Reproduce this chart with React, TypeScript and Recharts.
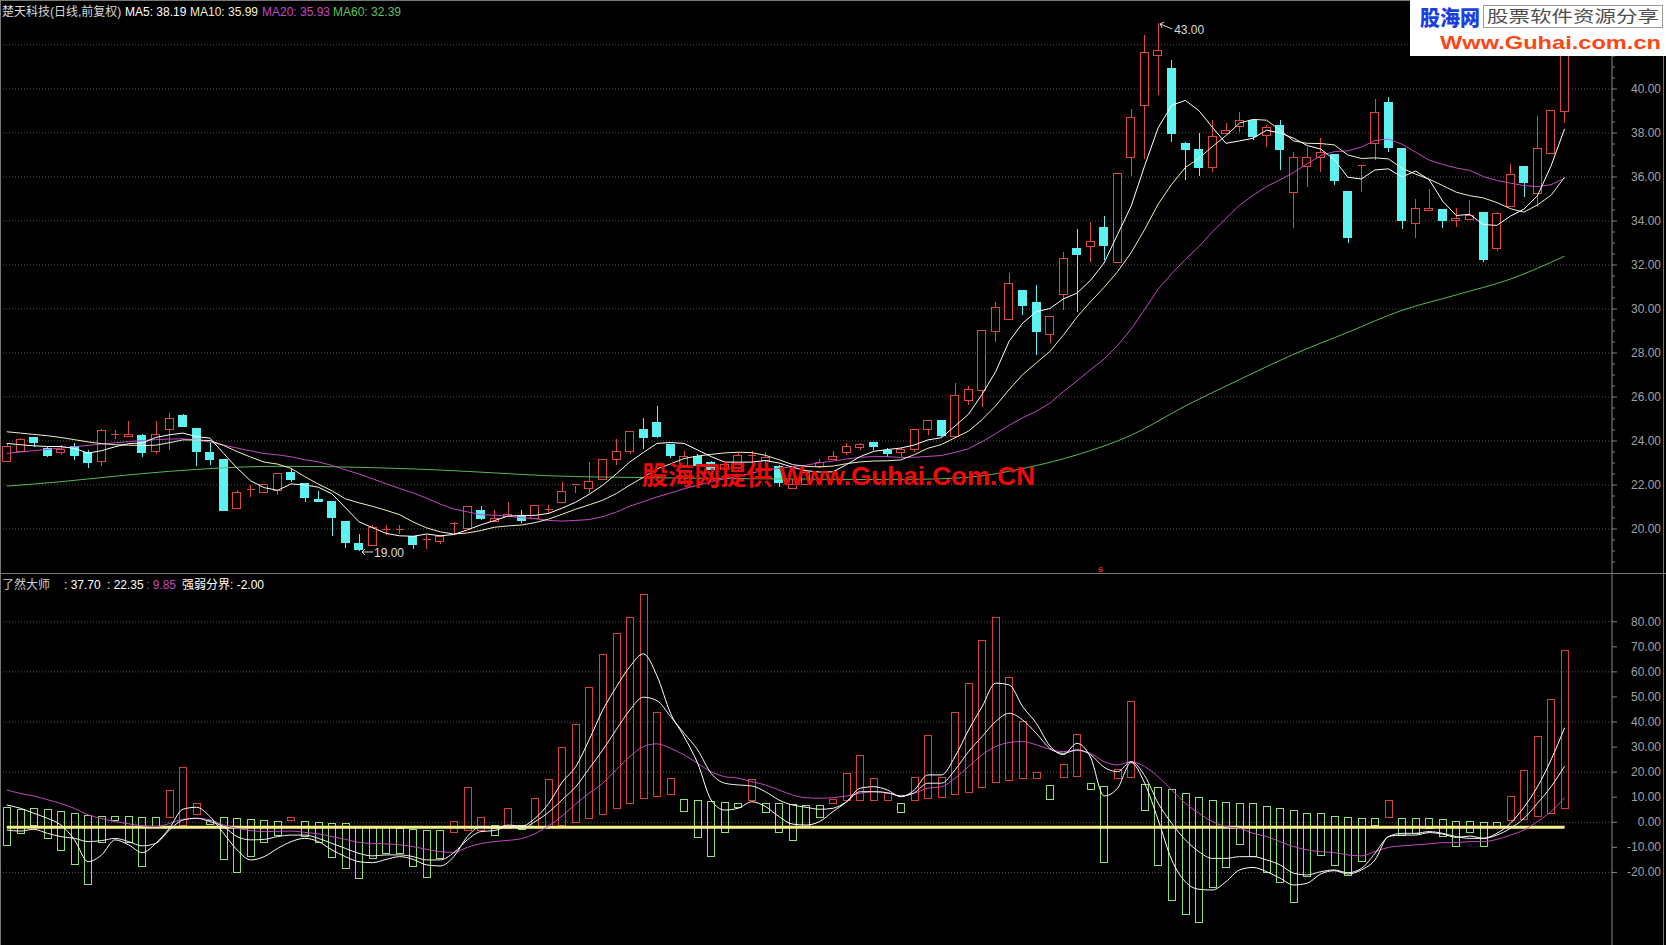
import React from 'react';
import { ComposedChart, Bar, Line, XAxis, YAxis, CartesianGrid, ReferenceDot } from 'recharts';

// daily candles, index 0..115
const OPEN = [
  23.06, 23.52, 24.15, 23.67, 23.47, 23.74, 23.49, 23.06, 24.25, 24.2,
  24.26, 23.52, 24.5, 25.18, 24.58, 23.49, 23.14, 20.94, 21.75, 21.67,
  21.77, 22.56, 22.08, 21.36, 21.27, 20.36, 19.35, 19.24, 19.94, 19.97,
  19.68, 19.52, 19.42, 20.25, 20.03, 20.82, 20.33, 20.56, 20.56, 20.49,
  20.88, 21.2, 21.97, 21.85, 22.26, 23.14, 23.5, 24.53, 24.85, 23.82,
  22.9, 23.3, 23.0, 22.7, 22.8, 23.3, 23.1, 22.86, 21.86, 22.0,
  22.84, 23.17, 23.47, 23.71, 23.94, 23.55, 23.47, 23.62, 24.53, 24.92,
  24.2, 25.83, 26.29, 28.97, 29.53, 30.86, 30.3, 28.82, 30.67, 32.76,
  32.86, 33.71, 32.12, 36.9, 39.24, 41.51, 40.94, 37.5, 37.27, 36.44,
  37.98, 38.29, 38.56, 37.88, 38.32, 35.29, 36.47, 36.89, 37.0, 35.36,
  36.5, 37.53, 39.39, 37.3, 33.89, 34.47, 34.53, 34.0, 34.08, 34.39,
  32.76, 34.65, 36.47, 35.26, 37.05, 38.97,
];
const HIGH = [
  23.92, 24.12, 24.2, 23.74, 23.82, 23.92, 23.59, 24.53, 24.5, 24.92,
  24.3, 24.92, 25.26, 25.23, 24.58, 23.89, 23.14, 21.77, 22.0, 22.0,
  22.53, 22.76, 22.08, 21.74, 21.27, 20.36, 19.76, 20.18, 20.18, 20.18,
  19.68, 19.73, 19.73, 20.33, 21.02, 21.05, 20.86, 21.24, 20.86, 21.09,
  21.09, 22.15, 22.03, 23.06, 23.14, 24.07, 24.42, 25.03, 25.59, 23.82,
  23.55, 23.4, 23.1, 23.1, 23.5, 23.55, 23.5, 22.9, 22.25, 22.6,
  23.2, 23.56, 23.9, 23.92, 23.94, 23.67, 23.67, 24.5, 24.95, 24.95,
  26.65, 26.5, 29.0, 30.33, 31.65, 30.86, 31.09, 29.68, 32.6, 33.62,
  33.97, 34.23, 36.17, 39.08, 42.45, 43.0, 41.32, 37.6, 38.0, 38.6,
  38.47, 38.97, 38.6, 38.36, 38.6, 37.15, 37.38, 37.76, 37.0, 35.36,
  36.52, 39.53, 39.65, 37.3, 34.98, 35.44, 34.53, 34.58, 34.95, 34.39,
  34.42, 36.59, 36.47, 38.79, 39.0, 42.9,
];
const LOW = [
  23.06, 23.49, 23.74, 23.29, 23.36, 23.14, 22.79, 22.88, 24.08, 24.17,
  23.26, 23.41, 23.59, 24.65, 22.88, 22.91, 20.83, 20.94, 21.47, 21.62,
  21.55, 22.15, 21.24, 21.27, 19.68, 19.12, 19.0, 19.24, 19.73, 19.79,
  19.08, 19.08, 19.32, 19.73, 20.03, 20.41, 20.33, 20.56, 20.29, 20.49,
  20.68, 21.2, 21.62, 21.65, 22.26, 22.91, 23.41, 23.62, 24.12, 23.21,
  22.8, 22.7, 22.5, 22.6, 22.7, 22.9, 22.9, 21.9, 21.86, 22.0,
  22.75, 23.14, 23.36, 23.6, 23.6, 23.29, 23.29, 23.5, 24.27, 24.2,
  24.2, 25.64, 25.56, 28.48, 29.53, 29.73, 27.91, 28.44, 29.95, 29.88,
  32.15, 32.23, 32.12, 36.06, 36.8, 39.73, 37.6, 35.86, 36.06, 36.24,
  37.95, 38.06, 37.7, 37.38, 36.3, 33.67, 35.56, 36.24, 35.64, 32.98,
  35.33, 36.77, 37.15, 33.62, 33.21, 34.47, 33.67, 33.74, 34.05, 32.15,
  32.65, 34.62, 35.1, 34.65, 37.05, 38.44,
];
const CLOSE = [
  23.74, 24.08, 23.94, 23.36, 23.62, 23.32, 23.02, 24.47, 24.28, 24.3,
  23.47, 24.3, 25.03, 24.68, 23.52, 23.14, 20.83, 21.67, 21.78, 22.0,
  22.53, 22.27, 21.42, 21.27, 20.53, 19.38, 19.05, 20.06, 19.96, 19.99,
  19.3, 19.54, 19.65, 20.27, 21.02, 20.49, 20.49, 20.67, 20.38, 21.09,
  20.9, 21.7, 22.03, 22.18, 23.14, 23.5, 24.42, 24.17, 24.2, 23.36,
  23.3, 22.9, 22.7, 22.95, 23.35, 23.32, 23.25, 22.12, 22.02, 22.55,
  23.02, 23.3, 23.77, 23.82, 23.74, 23.44, 23.62, 24.5, 24.95, 24.23,
  26.09, 26.35, 29.0, 30.08, 31.17, 30.18, 28.97, 29.68, 32.3, 32.48,
  33.09, 32.89, 36.17, 38.71, 41.67, 41.77, 37.98, 37.27, 36.42, 37.86,
  38.1, 38.56, 37.86, 38.26, 37.23, 36.89, 36.89, 37.1, 35.83, 33.24,
  36.5, 38.92, 37.35, 34.0, 34.58, 34.55, 34.02, 34.12, 34.23, 32.26,
  34.35, 36.12, 35.74, 37.3, 39.0, 42.79,
];

// moving averages as drawn on the chart
const MA5 = [
  23.89, 23.83, 23.78, 23.75, 23.75, 23.66, 23.45, 23.56, 23.74, 23.88,
  23.91, 24.16, 24.28, 24.36, 24.2, 24.13, 23.44, 22.77, 22.19, 21.88,
  21.76, 22.05, 22.0, 21.9, 21.6, 20.97, 20.33, 20.06, 19.8, 19.69,
  19.67, 19.77, 19.69, 19.75, 19.96, 20.19, 20.38, 20.59, 20.61, 20.62,
  20.71, 20.95, 21.22, 21.58, 21.99, 22.51, 23.05, 23.48, 23.89, 23.93,
  23.89, 23.59, 23.29, 23.04, 23.04, 23.04, 23.11, 23.0, 22.81, 22.65,
  22.59, 22.6, 22.93, 23.29, 23.53, 23.61, 23.68, 23.82, 24.05, 24.15,
  24.68, 25.22, 26.12, 27.15, 28.54, 29.36, 29.88, 30.02, 30.46, 30.72,
  31.3, 32.09, 33.39, 34.67, 36.51, 38.24, 39.26, 39.48, 39.02, 38.26,
  37.53, 37.64, 37.76, 38.13, 38.0, 37.76, 37.43, 37.27, 36.79, 35.99,
  35.91, 36.32, 36.37, 36.0, 36.27, 35.88, 34.9, 34.25, 34.3, 33.84,
  33.8, 34.22, 34.54, 35.15, 36.5, 38.19,
];
const MA10 = [
  24.42, 24.36, 24.3, 24.24, 24.16, 24.06, 23.96, 23.88, 23.83, 23.81,
  23.79, 23.81, 23.92, 24.05, 24.04, 24.02, 23.8, 23.52, 23.27, 23.04,
  22.95, 22.75, 22.38, 22.04, 21.74, 21.37, 21.19, 21.03, 20.85, 20.65,
  20.32, 20.05, 19.87, 19.77, 19.82, 19.93, 20.08, 20.14, 20.18, 20.29,
  20.45, 20.67, 20.9, 21.1, 21.31, 21.61, 22.0, 22.35, 22.73, 22.96,
  23.2, 23.32, 23.39, 23.46, 23.49, 23.47, 23.35, 23.15, 22.93, 22.85,
  22.82, 22.86, 22.97, 23.05, 23.09, 23.1, 23.14, 23.38, 23.67, 23.84,
  24.15, 24.45, 24.97, 25.6, 26.34, 27.02, 27.55, 28.07, 28.81, 29.63,
  30.33, 30.98, 31.7, 32.56, 33.61, 34.77, 35.67, 36.43, 36.85, 37.38,
  37.88, 38.45, 38.62, 38.58, 38.13, 37.64, 37.53, 37.52, 37.46, 37.0,
  36.84, 36.87, 36.82, 36.4, 36.13, 35.9, 35.61, 35.31, 35.15, 35.05,
  34.84, 34.56, 34.4, 34.73, 35.17, 35.99,
];
const MA20 = [
  23.44, 23.5, 23.56, 23.62, 23.68, 23.74, 23.8, 23.86, 23.92, 23.97,
  24.02, 24.06, 24.09, 24.1, 24.05, 23.95, 23.82, 23.68, 23.55, 23.43,
  23.37, 23.28, 23.15, 23.05, 22.89, 22.69, 22.5, 22.28, 22.06, 21.84,
  21.64, 21.4, 21.13, 20.91, 20.78, 20.65, 20.63, 20.58, 20.51, 20.47,
  20.39, 20.36, 20.39, 20.43, 20.56, 20.77, 21.04, 21.24, 21.46, 21.63,
  21.83, 21.99, 22.15, 22.28, 22.4, 22.54, 22.68, 22.75, 22.83, 22.9,
  23.01, 23.09, 23.18, 23.26, 23.29, 23.29, 23.25, 23.26, 23.3, 23.34,
  23.48, 23.65, 23.97, 24.33, 24.72, 25.06, 25.35, 25.72, 26.24, 26.73,
  27.24, 27.72, 28.34, 29.08, 29.98, 30.9, 31.61, 32.25, 32.83, 33.51,
  34.11, 34.72, 35.16, 35.57, 35.87, 36.21, 36.6, 36.98, 37.15, 37.19,
  37.36, 37.66, 37.72, 37.49, 37.13, 36.77, 36.57, 36.41, 36.3, 36.02,
  35.84, 35.72, 35.61, 35.56, 35.65, 35.94,
];
// MA60 read at these bars: [index, value]
const MA60 = [
  [0, 21.95], [4, 22.15], [8, 22.4], [12, 22.62], [16, 22.78], [20, 22.85],
  [24, 22.83], [28, 22.77], [32, 22.68], [36, 22.55], [40, 22.42], [44, 22.36],
  [48, 22.33], [52, 22.3], [56, 22.28], [59, 22.27], [63, 22.25], [67, 22.26],
  [71, 22.35], [75, 22.75], [79, 23.37], [83, 24.26], [87, 25.59], [91, 26.79],
  [95, 27.94], [99, 28.94], [103, 29.94], [107, 30.64], [111, 31.36], [115, 32.4],
];

// 了然大师 indicator: hollow bars [top, bottom], colour r/g
const BAR_TOP = [
  6.0, 5.2, 5.6, 5.2, 4.7, 3.9, 2.9, 2.5, 2.5, 2.5,
  2.0, 2.0, 12.9, 21.9, 7.8, 1.0, 2.0, 1.6, 1.2, 0.9,
  0.7, 2.0, 0.7, 0.3, -0.1, -0.4, -1.5, -2.0, -2.0, -2.4,
  -2.8, -3.1, -3.1, 0.7, 14.0, 2.0, -1.1, 5.6, -1.1, 9.6,
  17.2, 30.2, 39.1, 53.9, 67.0, 75.4, 81.8, 91.1, 44.1, 17.6,
  9.2, 8.9, 8.5, 8.0, 7.8, 17.2, 7.8, 7.8, 7.2, 6.9,
  6.9, 9.2, 19.8, 26.9, 17.6, 11.8, 7.6, 18.2, 34.8, 18.2,
  44.1, 55.5, 72.7, 81.8, 58.1, 40.6, 20.2, 14.9, 23.1, 35.1,
  15.6, 14.5, 21.1, 48.4, 15.2, 14.2, 13.2, 11.6, 10.2, 8.9,
  8.2, 7.8, 7.6, 6.5, 5.6, 4.9, 3.9, 3.6, 2.7, 2.3,
  1.6, 1.6, 8.9, 1.6, 1.6, 1.6, 1.2, 0.7, 0.7, 0.3,
  0.3, 10.6, 20.9, 34.4, 49.1, 68.8,
];
const BAR_BOTTOM = [
  -9.3, -4.4, -1.1, -6.4, -10.8, -16.4, -24.6, -7.7, 0.9, -7.7,
  -17.7, -1.7, 2.3, -1.1, 3.6, -0.5, -14.8, -20.1, -13.4, -7.7,
  -4.8, 0.7, -5.1, -7.7, -13.7, -18.4, -22.3, -14.4, -12.4, -12.4,
  -17.4, -21.7, -14.4, -3.7, -3.1, -3.1, -5.1, -2.4, -2.8, -1.7,
  -1.7, -1.1, 0.0, 1.6, 3.2, 5.6, 7.6, 9.8, 10.5, 11.2,
  4.3, -5.7, -13.3, -4.0, 6.3, 8.9, 4.3, -3.7, -7.3, -2.0,
  2.0, 7.8, 8.9, 8.9, 8.9, 8.9, 3.9, 9.2, 9.8, 10.2,
  11.2, 12.2, 14.0, 16.0, 16.9, 18.0, 18.0, 9.2, 18.0, 18.2,
  13.2, -15.7, 17.6, 18.2, 4.7, -17.0, -31.0, -36.6, -39.6, -25.9,
  -17.7, -8.4, -13.4, -19.7, -24.1, -31.6, -21.4, -13.0, -17.0, -21.0,
  -15.7, -1.1, 2.0, -5.1, -4.4, -2.4, -5.7, -9.4, -3.7, -9.4,
  -1.7, 0.9, 1.2, 2.3, 3.6, 5.6,
];
// one letter per bar, in groups of ten
const BAR_COLOR = [
  'gggggggggg', 'ggrrrggggg', 'grgggggggg', 'gggrrrgrgr', 'rrrrrrrrrr',
  'gggggrgggg', 'grrrrrgrrr', 'rrrrrrrgrr', 'ggrrgggggg', 'gggggggggg',
  'ggrggggggg', 'grrrrr',
].join('');
const LINE_1 = [
  6.9, 5.6, 3.6, 1.6, -1.1, -7.0, -15.7, -13.0, -7.0, -9.0,
  -12.1, -8.4, -2.4, 5.2, 6.0, 2.3, -4.4, -11.0, -15.0, -13.7,
  -10.4, -7.7, -6.4, -7.7, -11.0, -13.7, -15.7, -16.1, -14.8, -13.7,
  -14.8, -17.0, -17.4, -13.7, -5.7, -1.7, -2.4, -1.1, -1.5, 1.6,
  7.5, 16.0, 22.2, 33.0, 44.8, 54.0, 62.1, 67.2, 58.4, 43.5,
  34.2, 23.6, 8.9, 4.9, 5.6, 8.2, 6.3, 2.3, -0.7, -1.1,
  0.3, 4.3, 8.2, 13.6, 14.2, 12.9, 10.2, 12.9, 18.9, 18.9,
  26.2, 36.8, 46.1, 55.5, 54.8, 46.1, 39.5, 30.5, 27.0, 31.5,
  26.0, 10.5, 13.6, 23.8, 15.6, 0.9, -15.0, -23.7, -26.7, -27.0,
  -23.7, -19.0, -18.0, -19.7, -22.3, -25.0, -24.3, -20.6, -19.3, -20.6,
  -19.0, -15.0, -5.7, -5.1, -5.1, -4.1, -4.7, -6.0, -5.5, -6.4,
  -4.4, -0.4, 6.0, 14.2, 24.9, 37.7,
];
const LINE_2 = [
  -3.1, -3.5, -2.8, -4.4, -5.7, -6.4, -7.7, -7.3, -6.4, -7.7,
  -9.4, -8.4, -3.1, 0.9, 1.6, 0.3, -1.7, -5.7, -7.0, -6.8,
  -5.7, -5.1, -5.1, -6.4, -8.4, -10.4, -12.4, -13.4, -13.0, -13.0,
  -13.7, -15.0, -15.0, -12.1, -7.0, -3.7, -3.3, -1.7, -2.4, 0.3,
  4.0, 9.0, 14.2, 21.5, 28.9, 37.0, 44.8, 49.9, 48.5, 42.2,
  35.5, 28.9, 19.5, 15.6, 14.9, 14.5, 12.2, 8.9, 6.9, 6.0,
  5.2, 5.6, 8.2, 12.2, 12.2, 11.8, 10.5, 11.8, 15.6, 15.6,
  20.9, 28.2, 34.2, 40.2, 43.5, 40.8, 35.5, 29.5, 27.5, 28.9,
  27.0, 22.0, 20.2, 24.2, 18.6, 7.6, -0.4, -7.0, -11.7, -14.4,
  -14.4, -13.7, -13.7, -15.0, -17.0, -20.3, -21.0, -19.7, -19.0, -20.1,
  -18.4, -12.4, -5.7, -4.4, -4.4, -3.7, -4.4, -5.7, -6.4, -6.4,
  -5.1, -2.4, 1.6, 7.6, 14.2, 22.35,
];
const LINE_3 = [
  12.9, 11.5, 10.5, 9.0, 7.5, 5.5, 3.0, 1.5, 0.3, -0.6,
  -1.4, -1.7, -0.5, 1.2, 1.6, 1.0, -1.1, -2.4, -3.3, -3.7,
  -3.6, -3.5, -4.0, -4.6, -5.7, -6.8, -8.0, -8.4, -8.6, -9.0,
  -9.7, -10.8, -11.7, -12.0, -10.0, -8.5, -7.7, -7.2, -6.5, -4.5,
  -1.4, 2.5, 7.3, 11.6, 15.6, 21.0, 26.2, 30.2, 31.3, 29.5,
  26.9, 23.5, 20.2, 18.2, 17.6, 16.2, 14.9, 12.9, 10.9, 9.8,
  9.6, 9.8, 10.5, 11.6, 12.2, 11.8, 10.5, 11.6, 13.6, 14.2,
  17.6, 22.2, 26.9, 30.2, 31.8, 32.2, 30.9, 29.1, 28.2, 28.6,
  27.5, 24.2, 22.9, 24.2, 22.2, 18.2, 12.9, 7.6, 3.6, 0.3,
  -1.7, -2.4, -4.4, -5.7, -7.7, -9.7, -11.0, -11.7, -12.1, -13.0,
  -13.4, -11.7, -10.0, -9.4, -9.0, -8.6, -8.1, -8.1, -7.7, -7.7,
  -6.8, -5.1, -3.1, 0.3, 4.3, 9.85,
];
const BOUNDARY = -2;

const PRICE_TICKS = [20, 22, 24, 26, 28, 30, 32, 34, 36, 38, 40, 42];
const IND_TICKS = [-20, -10, 0, 10, 20, 30, 40, 50, 60, 70, 80];
const IND_GRID = [-20, 0, 20, 40, 60, 80];
const SLOTS = 119;

const RED = '#e0483f';
const CYAN = '#5cf2f2';
const IND_RED = '#d8403a';
const IND_GREEN = '#8fe06c';
const GRID = '#555555';
const AXIS = '#858585';
const FONT = "'Liberation Sans', 'Noto Sans CJK SC', sans-serif";

const ma60Map = new Map(MA60.map(([i, v]) => [i, v]));
const rows = Array.from({ length: SLOTS }, (_, i) => {
  if (i >= OPEN.length) return { i };
  return {
    i,
    o: OPEN[i], h: HIGH[i], l: LOW[i], c: CLOSE[i],
    ma5: MA5[i], ma10: MA10[i], ma20: MA20[i],
    ma60: ma60Map.has(i) ? ma60Map.get(i) : null,
    bt: BAR_TOP[i], bb: BAR_BOTTOM[i], bc: BAR_COLOR[i],
    w1: LINE_1[i], w2: LINE_2[i], m: LINE_3[i], bd: BOUNDARY,
  };
});

const minorTicks: number[] = [];
for (let v = 18.5; v <= 43.5; v += 0.5) minorTicks.push(v);

function Candle(props: any) {
  const { x, y, width, height, payload } = props;
  if (!payload || payload.o == null) return null;
  const { o, h, l, c } = payload;
  const top = Math.min(y, y + height);
  const bot = Math.max(y, y + height);
  const span = h - l || 1;
  const py = (v: number) => top + ((h - v) / span) * (bot - top);
  const up = c >= o;
  const color = up ? RED : CYAN;
  const cx = Math.round(x + width / 2) + 0.5;
  const bx = Math.round(x) + 0.5;
  const bw = Math.round(width) - 1;
  const bTop = py(Math.max(o, c));
  const bBot = py(Math.min(o, c));
  return (
    <g shapeRendering="crispEdges">
      <line x1={cx} x2={cx} y1={py(h)} y2={bTop} stroke={color} />
      <line x1={cx} x2={cx} y1={bBot} y2={py(l)} stroke={color} />
      {bBot - bTop < 1.5 ? (
        <line x1={bx} x2={bx + bw} y1={bTop} y2={bTop} stroke={color} />
      ) : (
        <rect x={bx} y={bTop} width={bw} height={bBot - bTop} fill={up ? '#000' : color} stroke={color} />
      )}
    </g>
  );
}

function IndBar(props: any) {
  const { x, y, width, height, payload } = props;
  if (!payload || payload.bt == null) return null;
  const top = Math.min(y, y + height);
  const hh = Math.max(1, Math.round(Math.abs(height)));
  return (
    <rect
      x={Math.round(x) + 0.5}
      y={Math.round(top) + 0.5}
      width={Math.round(width) - 1}
      height={hh}
      fill="none"
      stroke={payload.bc === 'r' ? IND_RED : IND_GREEN}
      shapeRendering="crispEdges"
    />
  );
}

function PriceTick(props: any) {
  const { x, y, payload } = props;
  const v = payload.value;
  const major = PRICE_TICKS.includes(v);
  return (
    <g>
      <line x1={x} x2={x + (major ? 5 : 3)} y1={y} y2={y} stroke={AXIS} />
      {major && (
        <text x={x + 49} y={y + 4} textAnchor="end" fill="#a0a0a0" fontSize={12} fontFamily={FONT}>
          {v.toFixed(2)}
        </text>
      )}
    </g>
  );
}

function IndTick(props: any) {
  const { x, y, payload } = props;
  return (
    <g>
      <line x1={x} x2={x + 5} y1={y} y2={y} stroke={AXIS} />
      <text x={x + 49} y={y + 4} textAnchor="end" fill="#a0a0a0" fontSize={12} fontFamily={FONT}>
        {payload.value.toFixed(2)}
      </text>
    </g>
  );
}

function HighMark(props: any) {
  const { cx, cy } = props;
  return (
    <g>
      <path d={`M${cx + 14},${cy + 6} L${cx + 2},${cy + 1} M${cx + 2},${cy + 1} l4,-2 M${cx + 2},${cy + 1} l2,4`} stroke="#dcdcdc" fill="none" />
      <text x={cx + 16} y={cy + 11} fill="#dcdcdc" fontSize={12} fontFamily={FONT}>43.00</text>
    </g>
  );
}

function LowMark(props: any) {
  const { cx, cy } = props;
  return (
    <g>
      <path d={`M${cx + 3},${cy + 1} L${cx + 14},${cy + 1} M${cx + 3},${cy + 1} l3,-3 M${cx + 3},${cy + 1} l3,3`} stroke="#dcdcdc" fill="none" />
      <text x={cx + 15} y={cy + 6} fill="#dcdcdc" fontSize={12} fontFamily={FONT}>19.00</text>
    </g>
  );
}

export default function App() {
  return (
    <div style={{ position: 'fixed', left: 0, top: 0, width: 1666, height: 945, background: '#000', overflow: 'hidden', fontFamily: FONT }}>
      <div style={{ position: 'absolute', left: 0, top: 0 }}>
        <ComposedChart width={1666} height={573} data={rows} margin={{ top: 0, right: 0, bottom: 0, left: 0 }}>
          <CartesianGrid vertical={false} stroke={GRID} strokeDasharray="1 2" horizontalValues={PRICE_TICKS} />
          <XAxis dataKey="i" type="category" hide />
          <YAxis
            orientation="right"
            width={54}
            type="number"
            domain={[18.0, 44.045]}
            allowDataOverflow
            ticks={minorTicks}
            interval={0}
            tick={<PriceTick />}
            tickLine={false}
            tickSize={0}
            tickMargin={0}
            axisLine={{ stroke: AXIS }}
          />
          <Bar dataKey={(d: any) => (d.o == null ? null : [d.l, d.h])} barSize={9} shape={(p: any) => <Candle {...p} />} activeBar={false} isAnimationActive={false} />
          <Line dataKey="ma60" type="monotone" stroke="#55bb55" dot={false} activeDot={false} strokeWidth={1} connectNulls isAnimationActive={false} />
          <Line dataKey="ma20" type="linear" stroke="#c248c2" dot={false} activeDot={false} strokeWidth={1} isAnimationActive={false} />
          <Line dataKey="ma10" type="linear" stroke="#f2eec4" dot={false} activeDot={false} strokeWidth={1} isAnimationActive={false} />
          <Line dataKey="ma5" type="linear" stroke="#ffffff" dot={false} activeDot={false} strokeWidth={1} isAnimationActive={false} />
          <ReferenceDot x={85} y={43} r={0} shape={(p: any) => <HighMark {...p} />} />
          <ReferenceDot x={26} y={19} r={0} shape={(p: any) => <LowMark {...p} />} />
        </ComposedChart>
      </div>
      <div style={{ position: 'absolute', left: 0, top: 573 }}>
        <ComposedChart width={1666} height={372} data={rows} margin={{ top: 0, right: 0, bottom: 0, left: 0 }}>
          <CartesianGrid vertical={false} stroke={GRID} strokeDasharray="1 2" horizontalValues={IND_GRID} />
          <XAxis dataKey="i" type="category" hide />
          <YAxis
            orientation="right"
            width={54}
            type="number"
            domain={[-48.94, 99.44]}
            allowDataOverflow
            ticks={IND_TICKS}
            interval={0}
            tick={<IndTick />}
            tickLine={false}
            tickSize={0}
            tickMargin={0}
            axisLine={{ stroke: AXIS }}
          />
          <Bar dataKey={(d: any) => (d.bt == null ? null : [d.bb, d.bt])} barSize={8} shape={(p: any) => <IndBar {...p} />} activeBar={false} isAnimationActive={false} />
          <Line dataKey="bd" type="linear" stroke="#f7f08a" dot={false} activeDot={false} strokeWidth={3} isAnimationActive={false} />
          <Line dataKey="m" type="monotone" stroke="#c248c2" dot={false} activeDot={false} strokeWidth={1} isAnimationActive={false} />
          <Line dataKey="w2" type="monotone" stroke="#f4f4f4" dot={false} activeDot={false} strokeWidth={1} isAnimationActive={false} />
          <Line dataKey="w1" type="monotone" stroke="#ffffff" dot={false} activeDot={false} strokeWidth={1} isAnimationActive={false} />
        </ComposedChart>
      </div>
      <svg width={1666} height={945} style={{ position: 'absolute', left: 0, top: 0, pointerEvents: 'none' }} fontFamily={FONT}>
        {/* frame */}
        <line x1={0} x2={1666} y1={0.5} y2={0.5} stroke="#777" />
        <line x1={0.5} x2={0.5} y1={0} y2={945} stroke="#777" />
        <line x1={0} x2={1666} y1={573.5} y2={573.5} stroke="#777" />
        <line x1={1663.5} x2={1663.5} y1={0} y2={945} stroke="#777" />
        {/* header */}
        <text x={2} y={16} fontSize={12} fill="#d8d8d8">楚天科技(日线,前复权)</text>
        <text x={125} y={16} fontSize={12} fill="#ffffff">MA5: 38.19</text>
        <text x={190} y={16} fontSize={12} fill="#f2eec4">MA10: 35.99</text>
        <text x={262} y={16} fontSize={12} fill="#c248c2">MA20: 35.93</text>
        <text x={333} y={16} fontSize={12} fill="#5fc05f">MA60: 32.39</text>
        <text x={2} y={589} fontSize={12} fill="#d0d0d0">了然大师</text>
        <text x={64} y={589} fontSize={12} fill="#ffffff">: 37.70</text>
        <text x={107} y={589} fontSize={12} fill="#ffffff">: 22.35</text>
        <text x={146} y={589} fontSize={12} fill="#c248c2">: 9.85</text>
        <text x={182} y={589} fontSize={12} fill="#ffffff">强弱分界: -2.00</text>
        <text x={1098} y={572} fontSize={9} fontWeight="bold" fill="#e02020">s</text>
        {/* watermarks */}
        <text x={642} y={485} fontSize={26} fontWeight="bold" fill="#ee0a0a" textLength={393} lengthAdjust="spacingAndGlyphs">股海网提供 Www.Guhai.Com.CN</text>
        <rect x={1410} y={0} width={256} height={56} fill="#ffffff" />
        <text x={1420} y={25} fontSize={21} fontWeight="900" fill="#1d3fe0" textLength={60} lengthAdjust="spacingAndGlyphs">股海网</text>
        <rect x={1483.5} y={5.5} width={179} height={22} fill="none" stroke="#9a9a9a" />
        <text x={1487} y={22} fontSize={16} fill="#505050" textLength={172} lengthAdjust="spacingAndGlyphs">股票软件资源分享</text>
        <text x={1440} y={49} fontSize={19} fontWeight="bold" fill="#ff4516" textLength={221} lengthAdjust="spacingAndGlyphs">Www.Guhai.com.cn</text>
      </svg>
    </div>
  );
}
